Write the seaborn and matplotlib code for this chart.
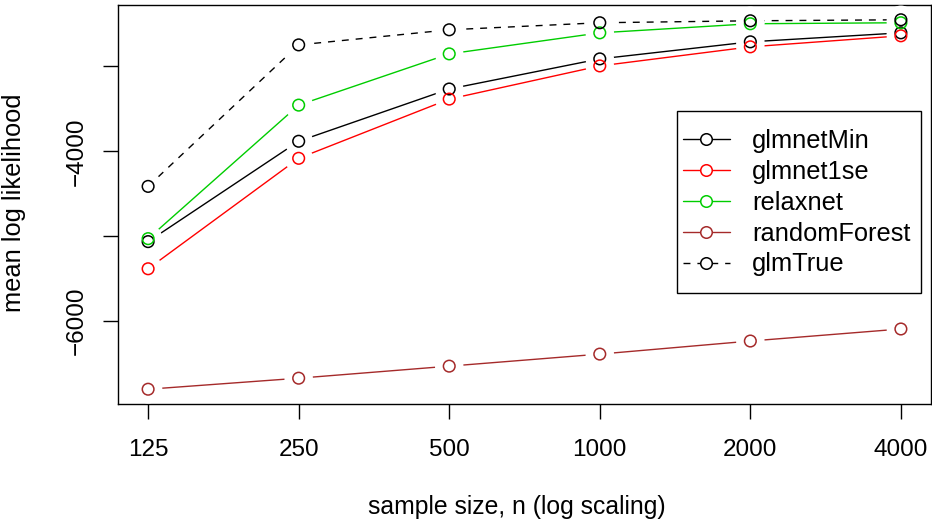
import numpy as np
import pandas as pd
import matplotlib
matplotlib.use("Agg")
import matplotlib.pyplot as plt
import matplotlib.patches as mpatches
import seaborn as sns
from matplotlib.lines import Line2D

# ---- data ----
sample_sizes = [125, 250, 500, 1000, 2000, 4000]
glmnetMin = [-5065, -3882, -3266, -2911, -2710, -2604]
glmnet1se = [-5385, -4083, -3385, -2994, -2769, -2639]
relaxnet = [-5030, -3456, -2852, -2604, -2497, -2485]
randomForest = [-6805, -6675, -6533, -6391, -6237, -6095]
glmTrue = [-4414, -2746, -2568, -2485, -2462, -2450]

series_names = ["glmnetMin", "glmnet1se", "relaxnet", "randomForest", "glmTrue"]
series_values = [glmnetMin, glmnet1se, relaxnet, randomForest, glmTrue]
series_colors = ["black", "#FF0000", "#00CD00", "#A52A2A", "black"]
series_styles = ["-", "-", "-", "-", "--"]

x_tick_labels = ["125", "250", "500", "1000", "2000", "4000"]
y_ticks = [-6000, -5000, -4000, -3000]
y_tick_labels = ["\u22126000", "", "\u22124000", ""]

df = pd.DataFrame({
    "n": np.tile(sample_sizes, len(series_names)),
    "loglik": np.concatenate(series_values),
    "method": np.repeat(series_names, len(sample_sizes)),
})

# ---- style ----
sns.set_style("white")
plt.rcParams["font.family"] = ["Liberation Sans", "DejaVu Sans"]
plt.rcParams["text.color"] = "black"
FS = 17.5
FS_LAB = 18.3

fig = plt.figure(figsize=(9.32, 5.29), dpi=100)
ax = fig.add_axes([118 / 932, 1 - 404 / 529, (931 - 118) / 932, (404 - 5) / 529])

dash = (0, (5, 5))
for name, col, ls in zip(series_names, series_colors, series_styles):
    sub = df[df["method"] == name]
    sns.lineplot(data=sub, x="n", y="loglik", ax=ax, color=col,
                 linestyle=dash if ls == "--" else "-", lw=1.0,
                 estimator=None, sort=False, legend=False, zorder=2)
# white gaps around points (R type="b")
for name in series_names:
    sub = df[df["method"] == name]
    sns.scatterplot(data=sub, x="n", y="loglik", ax=ax, s=420, color="white",
                    edgecolor="none", linewidth=0, legend=False, zorder=3)
for name, col in zip(series_names, series_colors):
    sub = df[df["method"] == name]
    sns.scatterplot(data=sub, x="n", y="loglik", ax=ax, s=70, marker="o",
                    facecolor="none", edgecolor=col, linewidth=1.1,
                    legend=False, zorder=4)

ax.set_xscale("log", base=2)
lx = np.log2(sample_sizes)
xr = lx.max() - lx.min()
ax.set_xlim(2 ** (lx.min() - 0.04 * xr), 2 ** (lx.max() + 0.04 * xr))
allv = np.concatenate(series_values)
yr = allv.max() - allv.min()
ax.set_ylim(allv.min() - 0.04 * yr, allv.max() + 0.04 * yr)

ax.set_xticks(sample_sizes)
ax.set_xticklabels(x_tick_labels)
ax.xaxis.set_minor_locator(matplotlib.ticker.NullLocator())
ax.set_yticks(y_ticks)
ax.set_yticklabels(y_tick_labels, rotation=90, va="center")
ax.tick_params(axis="both", direction="out", length=10.5, width=1.0,
               color="black", labelsize=FS, labelcolor="black",
               bottom=True, left=True)
ax.tick_params(axis="x", pad=15)
ax.tick_params(axis="y", pad=11)
for s in ax.spines.values():
    s.set_visible(True)
    s.set_color("black")
    s.set_linewidth(1.0)
ax.set_xlabel("")
ax.set_ylabel("")

fig.text(516.5 / 932, 1 - 507 / 529, "sample size, n (log scaling)",
         ha="center", va="center", fontsize=17.8, color="black")
fig.text(14 / 932, 1 - 203 / 529, "mean log likelihood", rotation=90,
         ha="center", va="center", fontsize=FS_LAB, color="black")

# legend
def ax_x(px):
    return (px - 118) / 813

def ax_y(py):
    return (404 - py) / 399

box = mpatches.Rectangle((ax_x(677), ax_y(293)), ax_x(921) - ax_x(677),
                         ax_y(111) - ax_y(293), transform=ax.transAxes,
                         facecolor="white", edgecolor="black", lw=1.0,
                         zorder=5)
ax.add_patch(box)

handles = [Line2D([0], [0], color=c, linestyle=dash if ls == "--" else "-",
                  lw=1.0, marker="o", markersize=8.3, markerfacecolor="white",
                  markeredgecolor=c, markeredgewidth=1.1)
           for c, ls in zip(series_colors, series_styles)]
leg = ax.legend(handles, series_names, loc="upper left",
                bbox_to_anchor=(ax_x(683), ax_y(129)),
                borderaxespad=0, frameon=False, fontsize=FS_LAB,
                handlelength=1.83, handletextpad=0.88, labelspacing=0.27,
                borderpad=0)
leg.set_zorder(6)

fig.savefig("out.png", dpi=100)
